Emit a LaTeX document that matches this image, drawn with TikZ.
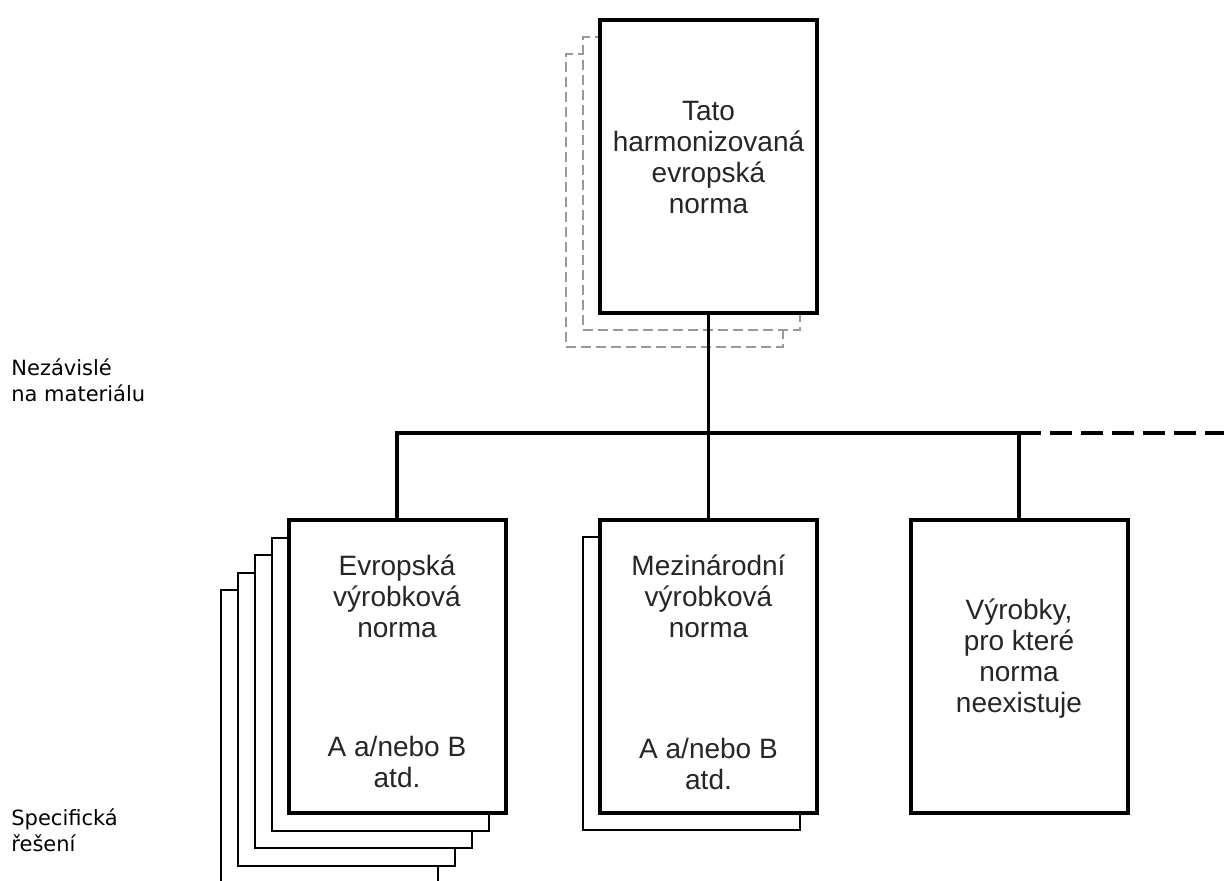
\documentclass[tikz,border=0pt]{standalone}
\usepackage{fontspec}
\setmainfont{Liberation Sans}
\newfontfamily\dejavu{DejaVu Sans}
\usetikzlibrary{positioning}

\begin{document}
\begin{tikzpicture}[x=0.5pt,y=-0.5pt,
	page/.style={draw,line width=2pt,fill=white,minimum width=108.5pt,minimum height=146.5pt,inner sep=0pt,outer sep=0pt},
	sheet/.style={page,line width=1pt},
	ghost/.style={page,line width=0.75pt,draw=gray!80,dash pattern=on 5pt off 2.5pt},
	txt/.style={align=center,inner sep=0pt,font=\fontsize{14}{15.5}\selectfont,text=black!85},
	lbl/.style={align=left,inner sep=0pt,font=\dejavu\fontsize{10.5}{13}\selectfont},
	link/.style={line width=1.9pt}]
	\useasboundingbox (0,0) rectangle (1224,881);
	% stacks of pages
	\foreach \i in {2,1}
		\node[ghost] (hen\i) at (708.5-17*\i,166.5+17*\i) {};
	\node[page] (hen) at (708.5,166.5) {};
	\foreach \i in {4,3,2,1}
		\node[sheet] (eu\i) at (397-17*\i,666.5+17.6*\i) {};
	\node[page] (eu) at (397,666.5) {};
	\node[sheet] (iso1) at (691.5,683.5) {};
	\node[page] (iso) at (708.5,666.5) {};
	\node[page] (none) at (1019,666.5) {};
	% connectors
	\coordinate (bus) at (708.5,433);
	\coordinate (busend) at (1224,433);
	\draw[link] (hen.south) -- (iso.north);
	\draw[link] (eu.north) |- (bus) -| (none.north);
	\draw[link,dash pattern=on 11pt off 4.5pt] (none.north |- bus) -- (busend);
	% texts
	\node[txt,below=40.5pt of hen.north] (hentxt) {Tato\\harmonizovaná\\evropská\\norma};
	\node[txt,below=17pt of eu.north] (eutxt) {Evropská\\výrobková\\norma};
	\node[txt,above=12.5pt of eu.south] (euab) {A a/nebo B\\atd.};
	\node[txt,below=17pt of iso.north] (isotxt) {Mezinárodní\\výrobková\\norma};
	\node[txt,above=11.5pt of iso.south] (isoab) {A a/nebo B\\atd.};
	\node[txt,below=39pt of none.north] (nonetxt) {Výrobky,\\pro které\\norma\\neexistuje};
	\node[lbl,anchor=west] (indep) at (11,380) {Nezávislé\\na materiálu};
	\node[lbl,anchor=west] (spec) at (11,830) {Specifická\\řešení};
\end{tikzpicture}
\end{document}
